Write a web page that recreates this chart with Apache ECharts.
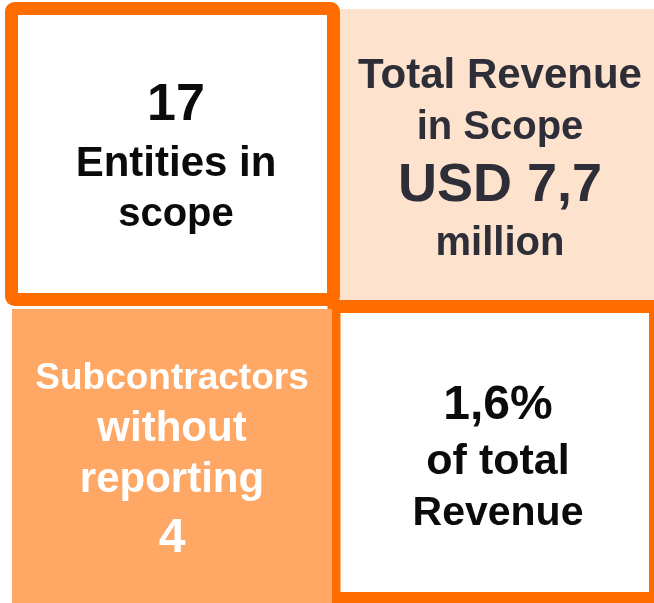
<!DOCTYPE html>
<html>
<head>
	<meta charset="utf-8" />
	<title>Subcontractor scope</title>
	<script src="https://cdn.jsdelivr.net/npm/echarts@6/dist/echarts.min.js"></script>
	<style>
		html, body { margin: 0; padding: 0; background: #fff; }
	</style>
</head>
<body>
	<div id="main" style="width: 654px;height: 603px;"></div>

	<script type="text/javascript">
		// texts of the four boxes, line by line
		var entitiesLines = ['17', 'Entities in', 'scope'];
		var revenueLines = ['Total Revenue', 'in Scope', 'USD 7,7', 'million'];
		var subcontractorLines = ['Subcontractors', 'without', 'reporting', '4'];
		var shareLines = ['1,6%', 'of total', 'Revenue'];

		var orange = '#ff6d00';
		var font = '"Liberation Sans", Arial, sans-serif';

		var myChart = echarts.init(document.getElementById('main'), null, {renderer: 'canvas'});

		// one text block: lines, center x, center ys, sizes, colour
		function block(lines, cx, ys, sizes, color) {
			var out = [];
			for (var i = 0; i < lines.length; i++) {
				out.push({
					type: 'text',
					x: cx,
					y: ys[i] + 3,
					z: 10,
					style: {
						text: lines[i],
						fill: color,
						fontFamily: font,
						fontWeight: 'bold',
						fontSize: sizes[i],
						align: 'center',
						verticalAlign: 'middle'
					}
				});
			}
			return out;
		}

		var boxes = [
			// top right, peach
			{type: 'rect', shape: {x: 340, y: 9, width: 320, height: 291}, style: {fill: '#fde2cd'}, z: 1},
			// bottom right, white with orange frame
			{type: 'rect', shape: {x: 334, y: 306.5, width: 321.5, height: 292}, style: {fill: '#fff', stroke: orange, lineWidth: 13}, z: 2},
			// bottom left, light orange
			{type: 'rect', shape: {x: 12, y: 309, width: 320, height: 300}, style: {fill: '#ffa764'}, z: 3},
			// top left, white with orange frame
			{type: 'rect', shape: {x: 11.5, y: 8.5, width: 322, height: 291, r: 3}, style: {fill: '#fff', stroke: orange, lineWidth: 13}, z: 4}
		];

		var texts = []
			.concat(block(entitiesLines, 176, [103, 161, 212], [52, 42, 40], '#0b0b0b'))
			.concat(block(revenueLines, 500, [73, 125, 183, 241], [42, 40, 54, 40], '#2e2e38'))
			.concat(block(subcontractorLines, 172, [376, 426, 477, 536], [37, 42, 42, 48], '#ffffff'))
			.concat(block(shareLines, 498, [403, 459, 511], [48, 43, 41], '#0b0b0b'));

		var option = {
			backgroundColor: '#fff',
			animation: false,
			graphic: {elements: boxes.concat(texts)}
		};

		myChart.setOption(option);
	</script>
</body>
</html>
